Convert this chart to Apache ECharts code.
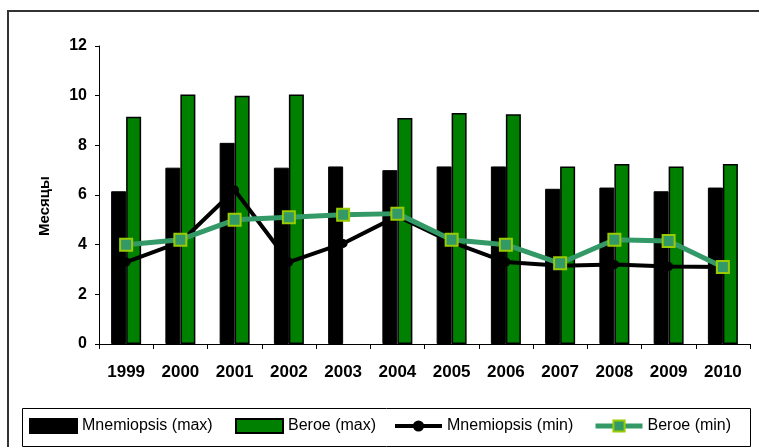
<!DOCTYPE html>
<html>
<head>
<meta charset="utf-8">
<script src="https://cdn.jsdelivr.net/npm/echarts@6/dist/echarts.min.js"></script>
<style>
  html, body { margin: 0; padding: 0; background: #fff; }
  #main { width: 759px; height: 447px; }
</style>
</head>
<body>
<div id="main"></div>
<script>
// данные
var years = ['1999', '2000', '2001', '2002', '2003', '2004', '2005', '2006', '2007', '2008', '2009', '2010'];
var mnemiopsisMax = [6.15, 7.1, 8.1, 7.1, 7.15, 7.0, 7.15, 7.15, 6.25, 6.3, 6.15, 6.3];
var beroeMax = [9.15, 10.05, 10.0, 10.05, null, 9.1, 9.3, 9.25, 7.15, 7.25, 7.15, 7.25];
var mnemiopsisMin = [3.3, 4.1, 6.2, 3.3, 4.05, 5.15, 4.1, 3.3, 3.15, 3.2, 3.12, 3.1];
var beroeMin = [4.0, 4.2, 5.0, 5.1, 5.2, 5.25, 4.2, 4.0, 3.25, 4.2, 4.15, 3.1];
var yTicks = [0, 2, 4, 6, 8, 10, 12];

var myChart = echarts.init(document.getElementById('main'));

var labelFont = 'Liberation Sans, Arial, sans-serif';
var legendText = { fontFamily: labelFont, fontSize: 16, color: '#000' };

function oneLegend(name, left, icon, lineWidth) {
  var l = {
    data: [name],
    left: left,
    top: 418,
    padding: 0,
    itemWidth: 47,
    itemHeight: 14,
    itemGap: 4,
    textStyle: legendText,
    selectedMode: false
  };
  if (icon) l.icon = icon;
  if (lineWidth) l.lineStyle = { width: lineWidth };
  return l;
}

var option = {
  backgroundColor: '#fff',
  animation: false,
  grid: { left: 99, right: 9, top: 46, bottom: 103 },
  graphic: [
    {
      type: 'rect',
      shape: { x: 8, y: 11, width: 760, height: 450 },
      style: { fill: 'none', stroke: '#333', lineWidth: 2 },
      silent: true
    },
    {
      type: 'rect',
      shape: { x: 22.5, y: 408.5, width: 728, height: 38 },
      style: { fill: '#fff', stroke: '#000', lineWidth: 1 },
      silent: true,
      z: -1
    },
    {
      type: 'text',
      x: 45,
      y: 206,
      rotation: Math.PI / 2,
      style: {
        text: 'Месяцы',
        fontFamily: labelFont,
        fontSize: 15,
        fontWeight: 'bold',
        fill: '#000',
        textAlign: 'center',
        textVerticalAlign: 'middle'
      }
    }
  ],
  legend: [
    oneLegend('Mnemiopsis (max)', 29, 'rect'),
    oneLegend('Beroe (max)', 235, 'rect'),
    oneLegend('Mnemiopsis (min)', 393, null, 4),
    oneLegend('Beroe (min)', 593, null, 5)
  ],
  xAxis: {
    type: 'category',
    data: years,
    axisLine: { lineStyle: { color: '#000', width: 1 } },
    axisTick: { show: true, length: 5, lineStyle: { color: '#000' } },
    axisLabel: {
      color: '#000',
      fontFamily: labelFont,
      fontSize: 17,
      fontWeight: 'bold',
      margin: 20
    }
  },
  yAxis: {
    type: 'value',
    min: 0,
    max: 12,
    interval: 2,
    axisLine: { show: true, lineStyle: { color: '#000', width: 1 } },
    axisTick: { show: true, length: 4, lineStyle: { color: '#000' } },
    splitLine: { show: false },
    axisLabel: {
      color: '#000',
      fontFamily: labelFont,
      fontSize: 16,
      fontWeight: 'bold',
      margin: 12,
      formatter: function (v) { return yTicks.indexOf(v) >= 0 ? String(v) : ''; }
    }
  },
  series: [
    {
      name: 'Mnemiopsis (max)',
      type: 'bar',
      data: mnemiopsisMax,
      barWidth: 15,
      barGap: '0%',
      itemStyle: { color: '#000', borderColor: '#000', borderWidth: 1 }
    },
    {
      name: 'Beroe (max)',
      type: 'bar',
      data: beroeMax,
      barWidth: 15,
      barGap: '0%',
      itemStyle: { color: '#008000', borderColor: '#000', borderWidth: 1.5 }
    },
    {
      name: 'Mnemiopsis (min)',
      type: 'line',
      data: mnemiopsisMin,
      symbol: 'circle',
      symbolSize: 9,
      lineStyle: { color: '#000', width: 4 },
      itemStyle: { color: '#000' },
      z: 3
    },
    {
      name: 'Beroe (min)',
      type: 'line',
      data: beroeMin,
      symbol: 'rect',
      symbolSize: 12,
      lineStyle: { color: '#339966', width: 5 },
      itemStyle: { color: '#339966', borderColor: '#99CC00', borderWidth: 2 },
      z: 4
    }
  ]
};

myChart.setOption(option);
</script>
</body>
</html>
